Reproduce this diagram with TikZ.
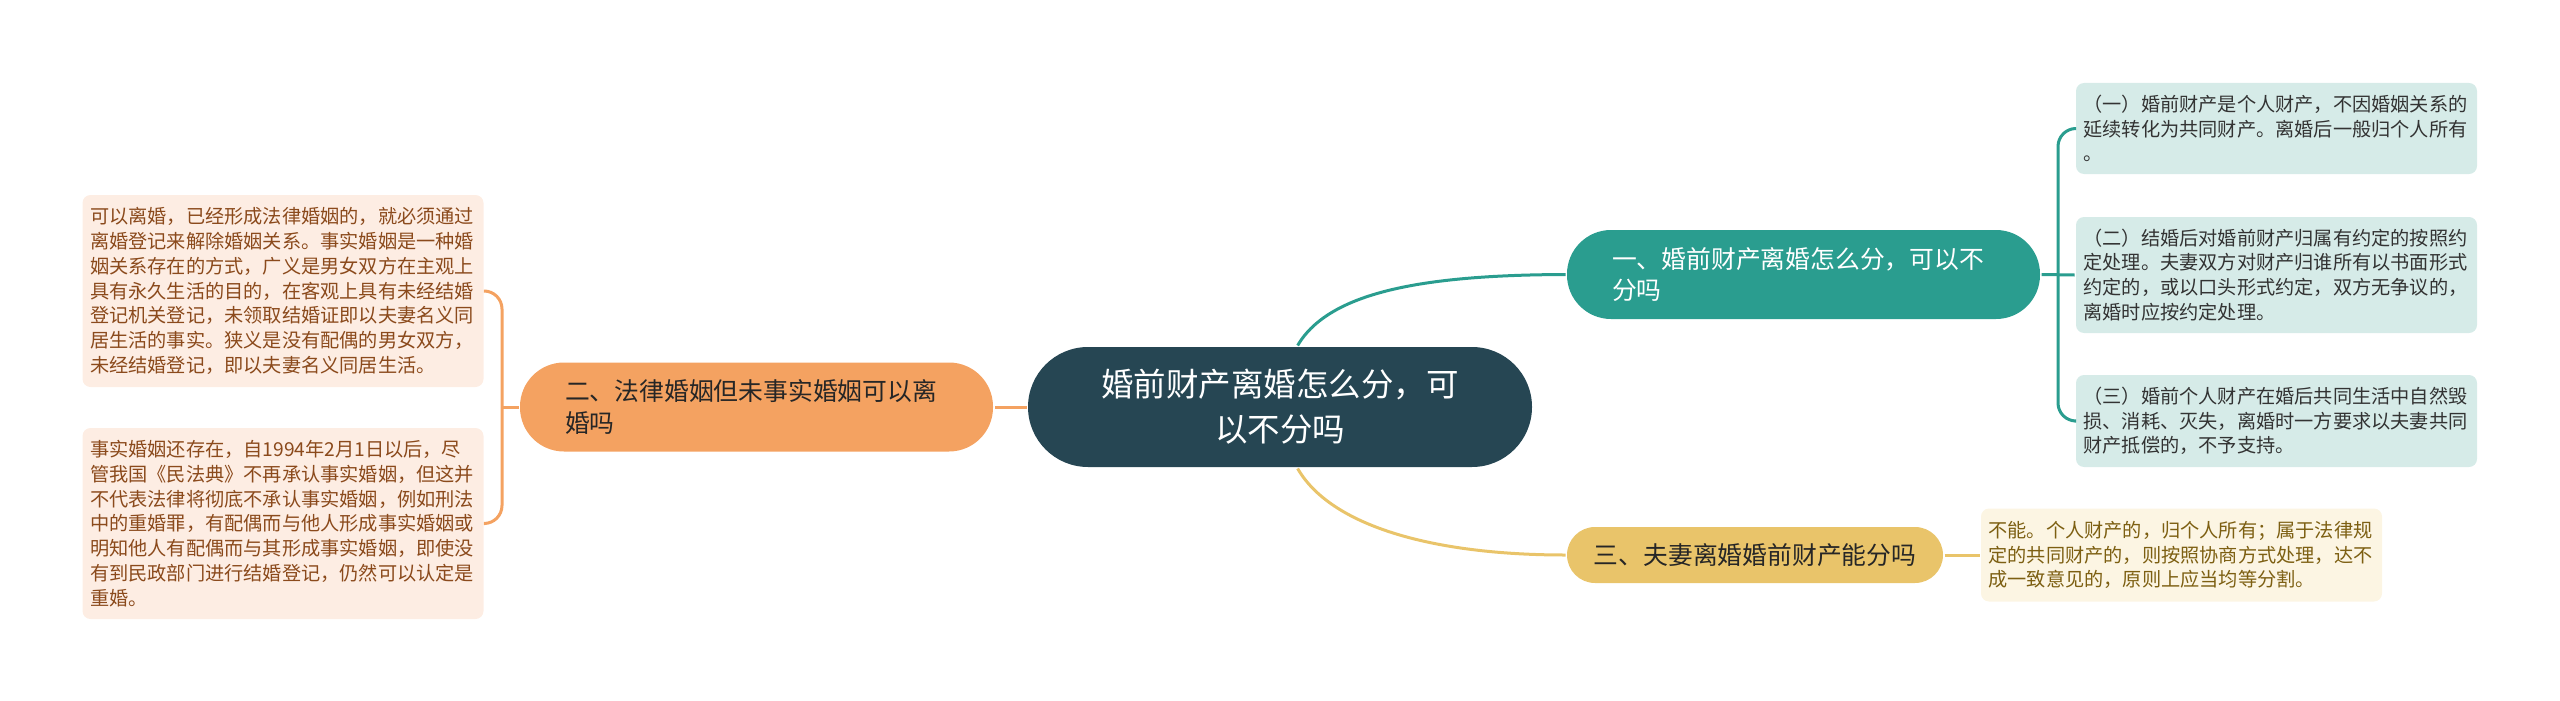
\documentclass[tikz,border=0pt]{standalone}
\usepackage{fontspec}
\setmainfont{Noto Sans CJK SC}
\usepackage{tikz}
\usetikzlibrary{positioning}
\definecolor{rootc}{HTML}{264653}
\definecolor{tealc}{HTML}{2A9D8F}
\definecolor{orgc}{HTML}{F4A261}
\definecolor{ylwc}{HTML}{E9C46A}
\definecolor{tealbg}{HTML}{D6EBE8}
\definecolor{orgbg}{HTML}{FDEDE3}
\definecolor{ylwbg}{HTML}{FCF5E3}
\definecolor{orgtx}{HTML}{8B4A1C}
\definecolor{ylwtx}{HTML}{7D5F12}

\begin{document}
\begin{tikzpicture}[x=1pt, y=-1pt, line width=3pt,
      root/.style={rounded corners=60pt, fill=rootc, text=white, align=center,
                   minimum width=504pt, minimum height=120pt,
                   font=\fontsize{32.5}{45}\selectfont},
      br/.style={font=\fontsize{24.8}{31.5}\selectfont},
      brtwo/.style={br, rounded corners=44pt, minimum height=89pt,
                    text width=383pt, inner xsep=45pt, align=left},
      leaf/.style={rounded corners=8pt, text width=386pt, inner xsep=7.5pt,
                   align=left, font=\fontsize{19.2}{24.8}\selectfont}]
    \useasboundingbox (0,0) rectangle (2560,701);
    % centre and main branches
    \node[root] (ctr) at (1280,407) {婚前财产离婚怎么分，可\\以不分吗};
    \node[brtwo, fill=tealc, text=white] (b1) at (1803.5,274.5)
        {一、婚前财产离婚怎么分，可以不\\分吗};
    \node[brtwo, fill=orgc, text=black!85] (b2) at (756.5,407)
        {二、法律婚姻但未事实婚姻可以离\\婚吗};
    \node[br, fill=ylwc, text=black!85, rounded corners=28pt,
          minimum width=376pt, minimum height=56pt] (b3) at (1755,555)
        {三、夫妻离婚婚前财产能分吗};
    % leaves, right
    \node[leaf, fill=tealbg, text=black!80, minimum height=91pt] (ra) at (2276.5,128.5)
        {（一）婚前财产是个人财产，不因婚姻关系的\\
         延续转化为共同财产。离婚后一般归个人所有\\
         。};
    \node[leaf, fill=tealbg, text=black!80, minimum height=116pt] (rb) at (2276.5,275)
        {（二）结婚后对婚前财产归属有约定的按照约\\
         定处理。夫妻双方对财产归谁所有以书面形式\\
         约定的，或以口头形式约定，双方无争议的，\\
         离婚时应按约定处理。};
    \node[leaf, fill=tealbg, text=black!80, minimum height=92pt] (rc) at (2276.5,421)
        {（三）婚前个人财产在婚后共同生活中自然毁\\
         损、消耗、灭失，离婚时一方要求以夫妻共同\\
         财产抵偿的，不予支持。};
    \node[leaf, fill=ylwbg, text=ylwtx, minimum height=93pt] (yl) at (2181.5,555)
        {不能。个人财产的，归个人所有；属于法律规\\
         定的共同财产的，则按照协商方式处理，达不\\
         成一致意见的，原则上应当均等分割。};
    % leaves, left
    \node[leaf, fill=orgbg, text=orgtx, minimum height=192pt] (la) at (283,291)
        {可以离婚，已经形成法律婚姻的，就必须通过\\
         离婚登记来解除婚姻关系。事实婚姻是一种婚\\
         姻关系存在的方式，广义是男女双方在主观上\\
         具有永久生活的目的，在客观上具有未经结婚\\
         登记机关登记，未领取结婚证即以夫妻名义同\\
         居生活的事实。狭义是没有配偶的男女双方，\\
         未经结婚登记，即以夫妻名义同居生活。};
    \node[leaf, fill=orgbg, text=orgtx, minimum height=191pt] (lb) at (283,523.5)
        {事实婚姻还存在，自1994年2月1日以后，尽\\
         管我国《民法典》不再承认事实婚姻，但这并\\
         不代表法律将彻底不承认事实婚姻，例如刑法\\
         中的重婚罪，有配偶而与他人形成事实婚姻或\\
         明知他人有配偶而与其形成事实婚姻，即使没\\
         有到民政部门进行结婚登记，仍然可以认定是\\
         重婚。};
    % connectors
    \coordinate (spR) at (2058,275);
    \coordinate (spL) at (502,407);
    \draw[tealc] (ctr.74) .. controls (1330,290) and (1430,275) .. (b1.west);
    \draw[ylwc] (ctr.-74) .. controls (1330,525) and (1430,555) .. (b3.west);
    \draw[orgc] (ctr.west) -- (b2.east);
    \draw[tealc] (b1.east) -- (rb.west);
    \draw[tealc, rounded corners=18pt] (spR) |- (ra.west);
    \draw[tealc, rounded corners=18pt] (spR) |- (rc.west);
    \draw[orgc] (b2.west) -- (spL);
    \draw[orgc, rounded corners=18pt] (spL) |- (la.east);
    \draw[orgc, rounded corners=18pt] (spL) |- (lb.east);
    \draw[ylwc] (b3.east) -- (yl.west);
  \end{tikzpicture}
\end{document}
